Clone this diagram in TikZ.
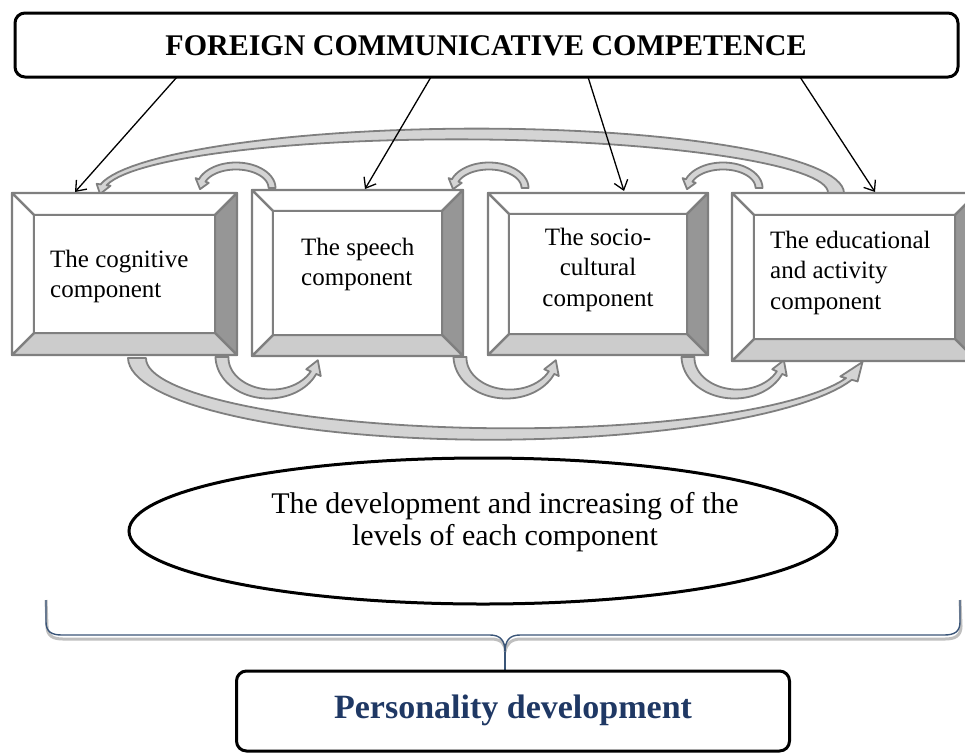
\documentclass[tikz,border=0pt]{standalone}
\usepackage{fontspec}
\setmainfont{Liberation Serif}
\usetikzlibrary{arrows.meta,calc,shapes.geometric}

\definecolor{edge}{HTML}{7F7F7F}
\definecolor{darkside}{HTML}{969696}
\definecolor{lightside}{HTML}{CCCCCC}
\definecolor{bandfill}{HTML}{D4D4D4}
\definecolor{navy}{HTML}{1F3864}
\definecolor{bracecol}{HTML}{3A5578}

\tikzset{
  bevelline/.style={draw=edge, line width=2.2pt, line join=round},
  band/.style={draw=edge, fill=bandfill, line width=1.8pt, line join=round},
  pointer/.style={black, line width=1.3pt, -{Straight Barb[length=9pt,width=14pt]}},
  boxtext/.style={inner sep=0pt, font=\fontsize{25}{30.5}\selectfont},
  frame/.style={draw=black, line width=3pt, rounded corners=10pt, inner sep=0pt}
}

% bevelled frame: name, top-left (x,y), bottom-right (x,y), bevel depth
\newcommand\bevelbox[6]{%
  \coordinate (#1-A) at (#2,#3);
  \coordinate (#1-B) at (#4,#3);
  \coordinate (#1-C) at (#4,#5);
  \coordinate (#1-D) at (#2,#5);
  \coordinate (#1-a) at (#2+#6,#3+#6);
  \coordinate (#1-b) at (#4-#6,#3+#6);
  \coordinate (#1-c) at (#4-#6,#5-#6);
  \coordinate (#1-d) at (#2+#6,#5-#6);
  \filldraw[bevelline, fill=white] (#1-A) -- (#1-B) -- (#1-b) -- (#1-a) -- cycle;
  \filldraw[bevelline, fill=darkside] (#1-B) -- (#1-C) -- (#1-c) -- (#1-b) -- cycle;
  \filldraw[bevelline, fill=lightside] (#1-C) -- (#1-D) -- (#1-d) -- (#1-c) -- cycle;
  \filldraw[bevelline, fill=white] (#1-D) -- (#1-A) -- (#1-a) -- (#1-d) -- cycle;
  \filldraw[bevelline, fill=white] (#1-a) rectangle (#1-c);
  \draw[bevelline] (#1-A) rectangle (#1-C);
}

% curved block arrow along an elliptical arc:
% centre x, centre y, x radius, y radius, start angle, end angle,
% half width at start, half width at end, angle of the tip
\def\tipwidth{7}
\newcommand\blockarc[9]{%
  \filldraw[band]
    plot[domain=#5:#6, samples=60, variable=\t] ({#1+(#3+#7+(#8-#7)*(\t-(#5))/((#6)-(#5)))*cos(\t)},{#2+(#4+#7+(#8-#7)*(\t-(#5))/((#6)-(#5)))*sin(\t)})
    -- ({#1+(#3+\tipwidth)*cos(#6)},{#2+(#4+\tipwidth)*sin(#6)})
    -- ({#1+#3*cos(#9)},{#2+#4*sin(#9)})
    -- ({#1+(#3-\tipwidth)*cos(#6)},{#2+(#4-\tipwidth)*sin(#6)})
    -- plot[domain=#6:#5, samples=60, variable=\t] ({#1+(#3-#7-(#8-#7)*(\t-(#5))/((#6)-(#5)))*cos(\t)},{#2+(#4-#7-(#8-#7)*(\t-(#5))/((#6)-(#5)))*sin(\t)})
    -- cycle;
}

\begin{document}
\begin{tikzpicture}[x=1pt, y=-1pt]
\useasboundingbox (0,0) rectangle (965,753);

% ---- feedback arrows behind the component frames ----
% large arc over the top, from the last frame back to the first
\def\tipwidth{7}
\blockarc{468}{193}{368}{59}{0}{-172}{8}{3}{-181}
% large arc underneath, from the first frame to the last
\def\tipwidth{9}
\blockarc{500}{358}{363}{76}{180}{16}{9}{3}{3}
% small arcs above, pointing to the left-hand neighbour
\def\tipwidth{7}
\blockarc{236}{188}{36}{22}{0}{-160}{3.5}{3.5}{-183}
\blockarc{489}{188}{36}{22}{0}{-160}{3.5}{3.5}{-183}
\blockarc{723}{188}{36}{22}{0}{-160}{3.5}{3.5}{-183}
% small arcs below, pointing to the right-hand neighbour
\def\tipwidth{8}
\blockarc{270}{357}{48}{37}{180}{25}{6.5}{3}{5}
\blockarc{508}{357}{48}{37}{180}{25}{6.5}{3}{5}
\blockarc{736}{357}{48}{37}{180}{25}{6.5}{3}{5}

% ---- component frames ----
\bevelbox{b1}{12}{193}{237}{355}{22}
\bevelbox{b2}{252}{190}{463}{356}{21}
\bevelbox{b3}{488}{193}{708}{355}{21}
\bevelbox{b4}{732}{193}{977}{361}{22}

\node[boxtext, anchor=base west] (t1) at (50,267)
  {\parbox[t]{180pt}{\raggedright The cognitive\\component}};
\node[boxtext, anchor=base west] (t2) at (301,255)
  {\parbox[t]{160pt}{\raggedright The speech\\component}};
\node[boxtext, anchor=base] (t3) at (598,245)
  {\parbox[t]{175pt}{\centering The socio-\\cultural\\component}};
\node[boxtext, anchor=base west] (t4) at (770,248)
  {\parbox[t]{190pt}{\raggedright The educational\\and activity\\component}};

% ---- heading ----
\node[frame, minimum width=943pt, minimum height=64pt] (fcc) at (486.5,45) {};
\node[inner sep=0pt, anchor=base] (fcctext) at (486,55)
  {\fontsize{30}{30}\selectfont\bfseries FOREIGN COMMUNICATIVE COMPETENCE};

% arrows from the heading to each component
\coordinate (s1) at (177,77);  \coordinate (e1) at (75,192);
\coordinate (s2) at (431,77);  \coordinate (e2) at (365,189);
\coordinate (s3) at (588,77);  \coordinate (e3) at (624,191);
\coordinate (s4) at (800,77);  \coordinate (e4) at (875,192);
\draw[pointer] (s1) -- (e1);
\draw[pointer] (s2) -- (e2);
\draw[pointer] (s3) -- (e3);
\draw[pointer] (s4) -- (e4);

% ---- levels ellipse ----
\node[draw=black, line width=3pt, ellipse, inner sep=0pt,
      minimum width=708pt, minimum height=146pt] (lvl) at (483,531) {};
\node[inner sep=0pt, anchor=base] (lvltext) at (505,513)
  {\fontsize{30}{32.5}\selectfont\parbox[t]{540pt}{\centering The development and increasing of the\\levels of each component}};

% ---- brace gathering everything ----
\coordinate (bl) at (46,600);
\coordinate (br) at (960,600);
\coordinate (bm) at (505,652);
\coordinate (bt) at (505,670);
\draw[black!25, line width=3pt, shift={(1,4)}]
  (bl) -- (46,622) .. controls (46,632) and (52,635) .. (62,635) -- (490,635)
  .. controls (500,635) and (505,640) .. (bm)
  .. controls (505,640) and (510,635) .. (520,635) -- (944,635)
  .. controls (954,635) and (960,632) .. (960,622) -- (br);
\draw[bracecol, line width=1.4pt]
  (bl) -- (46,622) .. controls (46,632) and (52,635) .. (62,635) -- (490,635)
  .. controls (500,635) and (505,640) .. (bm)
  .. controls (505,640) and (510,635) .. (520,635) -- (944,635)
  .. controls (954,635) and (960,632) .. (960,622) -- (br);
\draw[bracecol, line width=1.4pt] (bm) -- (bt);

% ---- result ----
\node[frame, minimum width=553pt, minimum height=80pt] (pd) at (513,711) {};
\node[inner sep=0pt, anchor=base, text=navy] (pdtext) at (513,718)
  {\fontsize{34}{34}\selectfont\bfseries Personality development};
\end{tikzpicture}
\end{document}
